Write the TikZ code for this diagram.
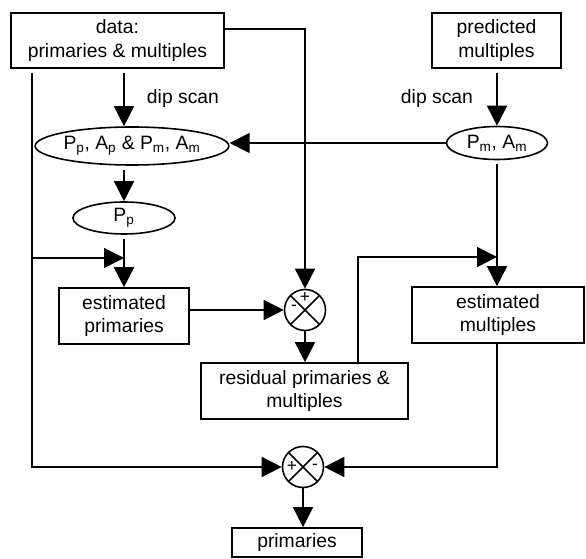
\documentclass[tikz,border=0pt]{standalone}
\usepackage{fontspec}
\setmainfont{Liberation Sans}
\usetikzlibrary{arrows.meta,calc,shapes.geometric}

\begin{document}
\begin{tikzpicture}[x=0.75pt,y=-0.75pt,
        every node/.style={font=\fontsize{14.5}{17.3}\selectfont},
        box/.style={draw,line width=1.2pt,inner sep=0pt,align=center},
        oval/.style={draw,ellipse,line width=1.2pt,inner sep=0pt},
        sum/.style={draw,circle,line width=1.2pt,minimum size=30.75pt,inner sep=0pt,
            path picture={\draw[line width=1.2pt] (path picture bounding box.north west) -- (path picture bounding box.south east)
                (path picture bounding box.north east) -- (path picture bounding box.south west);}},
        sign/.style={font=\fontsize{13}{13}\selectfont,inner sep=0pt},
        arr/.style={-{Triangle[length=15pt,width=15pt]},line width=1.2pt},
        lead/.style={shorten <=3pt}]
        \useasboundingbox (0,0) rectangle (586,559);
        \node[box,minimum width=159.75pt,minimum height=41.25pt] (data) at (117.5,40.5) {data:\\primaries \& multiples};
        \node[box,minimum width=96.75pt,minimum height=41.25pt] (pred) at (496.5,40.5) {predicted\\multiples};
        \node[oval,minimum width=144pt,minimum height=28.5pt] (ppam) at (132,146) {P\textsubscript{p}, A\textsubscript{p} \& P\textsubscript{m}, A\textsubscript{m}};
        \node[oval,minimum width=75.75pt,minimum height=24.75pt] (pmam) at (497,143) {P\textsubscript{m}, A\textsubscript{m}};
        \node[oval,minimum width=76.5pt,minimum height=24pt] (pp) at (124,218) {P\textsubscript{p}};
        \node[box,minimum width=97.5pt,minimum height=42pt] (estprim) at (124,316) {estimated\\primaries};
        \node[sum] (sum1) at (305,310) {};
        \node[sign] (sum1p) at ($(sum1)+(0,-12)$) {+};
        \node[sign] (sum1m) at ($(sum1)+(-11,-2)$) {-};
        \node[box,minimum width=155.25pt,minimum height=42pt] (resid) at (304.5,391) {residual primaries \&\\multiples};
        \node[box,minimum width=129pt,minimum height=42pt] (estmult) at (498,315) {estimated\\multiples};
        \node[sum] (sum2) at (303,467) {};
        \node[sign] (sum2p) at ($(sum2)+(-11,0)$) {+};
        \node[sign] (sum2m) at ($(sum2)+(12,0)$) {-};
        \node[box,minimum width=97.5pt,minimum height=21.75pt] (prim) at (297,542.5) {primaries};
        \node (dipl) at (183,99) {dip scan};
        \node (dipr) at (437,99) {dip scan};
        \coordinate (lft) at (32,258);
        \coordinate (rsd) at (358,257);

        % left branch: data -> dip scan -> primaries
        \draw[arr,lead] (data.south -| pp) -- (ppam.north -| pp);
        \draw[arr,lead] (ppam.south -| pp) -- (pp.north);
        \draw[arr,lead] (pp.south) -- (estprim.north);
        \draw[arr,lead] (data.south -| lft) |- (sum2.west);
        \draw[arr] (lft) -- (lft -| pp);
        \draw[arr] (estprim.east |- sum1) -- (sum1.west);
        \draw[arr] (data.east |- 0,29) -| (sum1.north);
        \draw[arr] (sum1.south) -- (resid.north -| sum1);

        % right branch: predicted multiples
        \draw[arr,lead] (pred.south -| pmam) -- (pmam.north);
        \draw[arr] (pmam.west) -- (pmam.west -| ppam.east);
        \draw[arr,lead] (pmam.south) -- (estmult.north -| pmam);
        \draw[arr] (rsd |- resid.north) |- (pmam |- rsd);
        \draw[arr] (estmult.south -| pmam) |- (sum2.east);
        \draw[arr] (sum2.south) -- (sum2 |- prim.north);
\end{tikzpicture}
\end{document}
